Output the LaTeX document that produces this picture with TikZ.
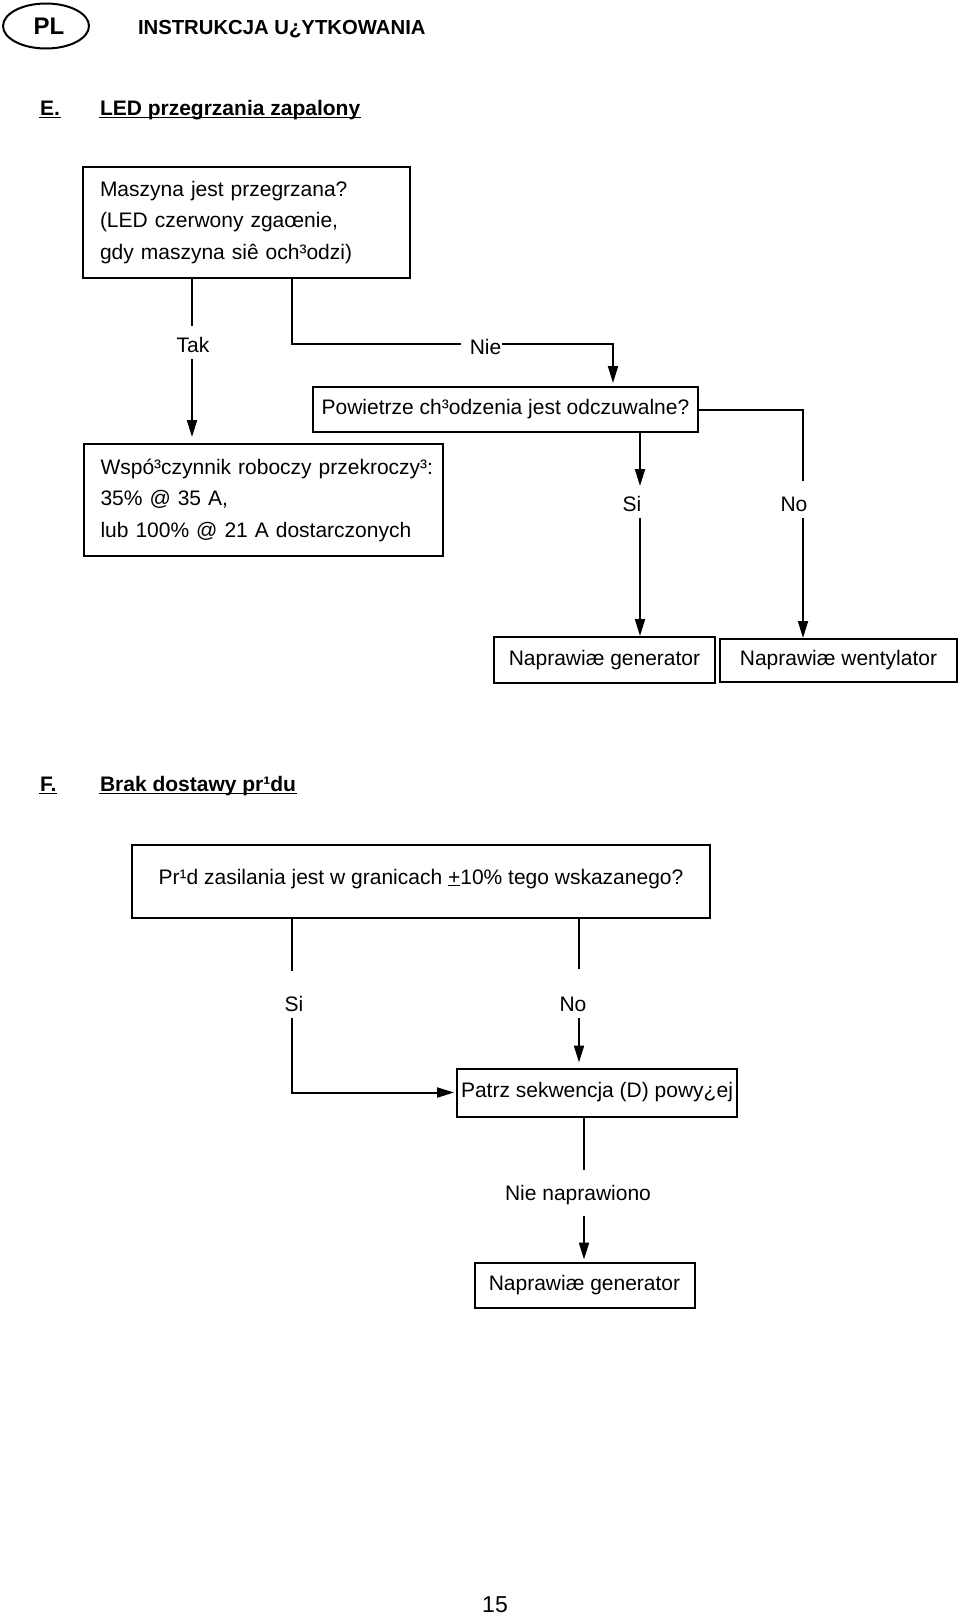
\documentclass[tikz,border=0pt]{standalone}
\usepackage{fontspec}
\setmainfont{Liberation Sans}
\usetikzlibrary{arrows.meta,shapes.geometric,calc}
\hbadness=10000 \hfuzz=50pt
\begin{document}
\begin{tikzpicture}[x=1pt,y=-1pt,line width=2pt,
  box/.style={draw, line width=2pt, font=\fontsize{21}{31.5}\selectfont, inner xsep=4pt, inner ysep=0pt},
  lbl/.style={font=\fontsize{21}{24}\selectfont, inner xsep=2pt, inner ysep=5.5pt, text height=15pt, text depth=0pt},
  arr/.style={-{Triangle[length=17pt,width=10pt]}},
  hd/.style={font=\fontsize{21}{24}\selectfont\bfseries, inner sep=0pt, anchor=base west},
  uline/.style={line width=1.5pt}]
\useasboundingbox (0,0) rectangle (960,1620);

% header
\node[draw, ellipse, line width=2pt, minimum width=86pt, minimum height=45pt, inner sep=0pt,
      font=\fontsize{24}{28}\selectfont\bfseries] (pl) at (46,26) {\hspace{6pt}PL};
\node[font=\fontsize{20.3}{24}\selectfont\bfseries, inner sep=0pt, anchor=west] (title) at (137,29) {INSTRUKCJA U¿YTKOWANIA};

% section E
\node[hd] (hE) at (39,115) {E.};
\node[hd] (hEt) at (99,115) {LED przegrzania zapalony};
\draw[uline] ([yshift=-2.5pt]hE.base west) -- ([yshift=-2.5pt]hE.base east);
\draw[uline] ([yshift=-2.5pt]hEt.base west) -- ([yshift=-2.5pt]hEt.base east);

\node[box, minimum width=327pt, minimum height=111pt, text width=293pt, align=left, inner xsep=17pt] (b1) at (246.5,222.5)
  {Maszyna jest przegrzana?\\(LED czerwony zgaœnie,\\gdy maszyna siê och³odzi)};
\node[box, minimum width=359pt, minimum height=112pt, text width=325pt, align=left, inner xsep=17pt] (b2) at (263,500)
  {\mbox{Wspó³czynnik roboczy przekroczy³:}\\35\% @ 35 A,\\\mbox{lub 100\% @ 21 A dostarczonych}};
\node[box, minimum width=385pt, minimum height=45pt] (b3) at (505.5,409.5) {Powietrze ch³odzenia jest odczuwalne?};
\node[box, minimum width=221pt, minimum height=46pt] (gen1) at (604.5,660) {Naprawiæ generator};
\node[box, minimum width=237pt, minimum height=43pt] (vent) at (838.5,660.5) {Naprawiæ wentylator};

\node[lbl] (takl) at (193,345) {Tak};
\node[lbl] (niel) at (485.5,347) {Nie};
\node[lbl] (sil) at (632,504) {Si};
\node[lbl] (nol) at (794,504) {No};

\coordinate (xtak) at (192,0);
\coordinate (xnie1) at (292,0);
\coordinate (xnie2) at (613,0);
\coordinate (xsi) at (640,0);
\coordinate (xno) at (803,0);

\draw[shorten >=5pt] (b1.south -| xtak) -- (takl.north -| xtak);
\draw[arr, shorten >=6pt] (takl.south -| xtak) -- (b2.north -| xtak);
\draw[shorten >=6pt] (b1.south -| xnie1) |- ([yshift=3.5pt]niel.west);
\draw[arr, shorten >=3pt] ([yshift=3.5pt,xshift=-2pt]niel.east) -| (b3.north -| xnie2);
\draw[arr, shorten >=4pt] (b3.south -| xsi) -- (sil.north -| xsi);
\draw[arr] (sil.south -| xsi) -- (gen1.north -| xsi);
\draw[shorten >=9pt] (b3.east) -| (nol.north -| xno);
\draw[arr] (nol.south -| xno) -- (vent.north -| xno);

% section F
\node[hd] (hF) at (39,791) {F.};
\node[hd] (hFt) at (99,791) {Brak dostawy pr¹du};
\draw[uline] ([yshift=-2.5pt]hF.base west) -- ([yshift=-2.5pt]hF.base east);
\draw[uline] ([yshift=-2.5pt]hFt.base west) -- ([yshift=-2.5pt]hFt.base east);

\node[box, minimum width=578pt, minimum height=73pt] (b4) at (421,881.5)
  {\raisebox{10pt}{Pr¹d zasilania jest w granicach \underline{+}10\% tego wskazanego?}};
\node[box, minimum width=280pt, minimum height=48pt, inner xsep=2pt] (b5) at (597,1092.5) {Patrz sekwencja (D) powy¿ej};
\node[box, minimum width=220pt, minimum height=45pt] (b6) at (584.5,1285) {Naprawiæ generator};

\node[lbl] (fsil) at (294,1004) {Si};
\node[lbl] (fnol) at (573,1004) {No};
\node[lbl] (nnl) at (578,1193) {Nie naprawiono};

\coordinate (xfsi) at (292,0);
\coordinate (xfno) at (579,0);
\coordinate (xnn) at (584,0);

\draw[shorten >=19pt] (b4.south -| xfsi) -- (fsil.north -| xfsi);
\draw[arr, shorten >=2pt] (fsil.south -| xfsi) |- (b5.west);
\draw[shorten >=21pt] (b4.south -| xfno) -- (fnol.north -| xfno);
\draw[arr, shorten >=5pt] (fnol.south -| xfno) -- (b5.north -| xfno);
\draw[shorten >=9pt] (b5.south -| xnn) -- (nnl.north -| xnn);
\draw[arr, shorten <=9pt, shorten >=2pt] (nnl.south -| xnn) -- (b6.north -| xnn);

% page number
\node[font=\fontsize{23}{26}\selectfont, inner sep=0pt] (pg) at (495,1605) {15};
\end{tikzpicture}
\end{document}
